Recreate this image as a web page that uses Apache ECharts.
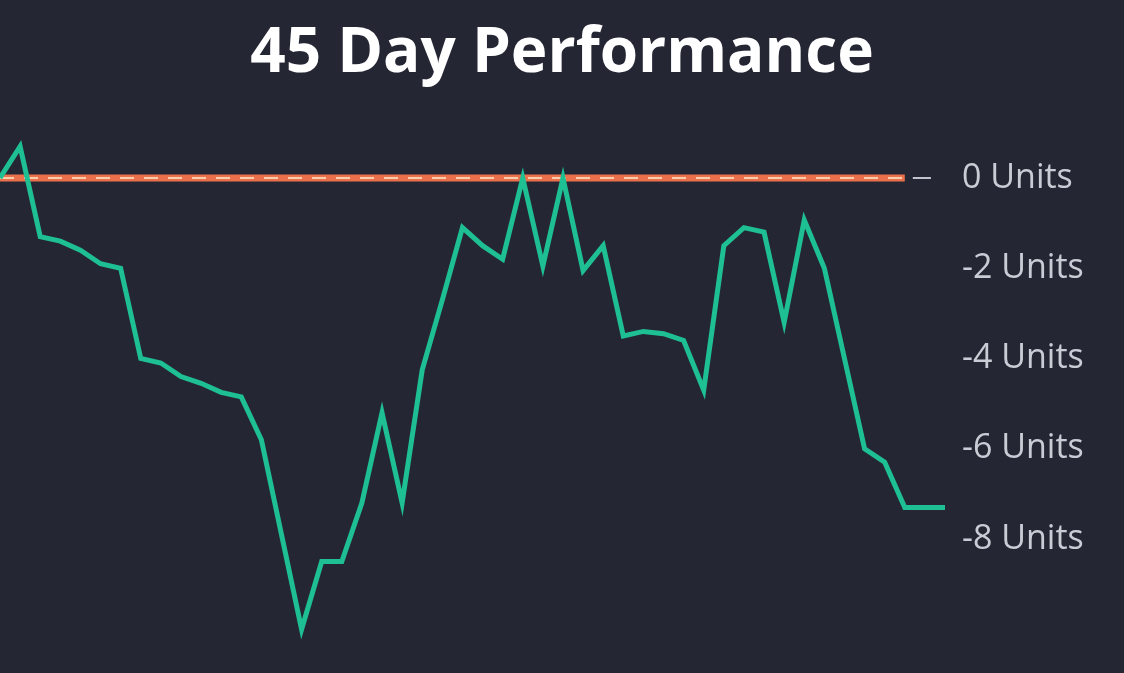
<!DOCTYPE html>
<html><head><meta charset="utf-8">
<script src="https://cdn.jsdelivr.net/npm/echarts@6/dist/echarts.min.js"></script>
<style>html,body{margin:0;padding:0;background:#242634;}#c{width:1124px;height:673px;}</style>
</head><body><div id="c"></div>
<script>
const titleText = '45 Day Performance';
const days = Array.from({length: 48}, (_, i) => i);
const performance = [0, 0.7, -1.3, -1.4, -1.6, -1.9, -2.0, -4.0, -4.1, -4.4, -4.55, -4.75, -4.85, -5.8, -7.9, -10.0,
  -8.5, -8.5, -7.2, -5.2, -7.2, -4.25, -2.7, -1.1, -1.5, -1.8, 0, -1.95, 0, -2.05, -1.5, -3.5, -3.4, -3.45, -3.6,
  -4.7, -1.5, -1.1, -1.2, -3.2, -0.93, -2.0, -4.0, -6.0, -6.3, -7.3, -7.3, -7.3];
const baselineValue = 0;
const baselineEndDay = 45;
const tickDash = [45.4, 46.3];
const yTicks = [0, -2, -4, -6, -8];

const chart = echarts.init(document.getElementById('c'));
chart.setOption({
  backgroundColor: '#242634',
  animation: false,
  title: {
    text: titleText, left: 'center', top: 18,
    textStyle: {color: '#ffffff', fontFamily: 'Open Sans', fontWeight: 'bold', fontSize: 62}
  },
  grid: {left: 0, right: 179, top: 87.75, bottom: 43.75},
  xAxis: {type: 'value', min: 0, max: days.length - 1, show: false},
  yAxis: {
    type: 'value', position: 'right', min: -10, max: 2, interval: 2,
    splitLine: {show: false}, axisLine: {show: false}, axisTick: {show: false},
    axisLabel: {
      margin: 17, color: '#c9ccd4', fontFamily: 'Open Sans', fontSize: 34,
      formatter: v => yTicks.includes(v) ? v + ' Units' : ''
    }
  },
  series: [
    {
      type: 'line', data: [[0, baselineValue], [baselineEndDay, baselineValue]],
      symbol: 'none', lineStyle: {color: '#ea714b', width: 7}, silent: true, z: 1
    },
    {
      type: 'line', data: [[0, baselineValue], [baselineEndDay, baselineValue]],
      symbol: 'none', lineStyle: {color: '#f8cfae', width: 2, type: [14, 10]}, silent: true, z: 2
    },
    {
      type: 'line', data: tickDash.map(d => [d, baselineValue]),
      symbol: 'none', lineStyle: {color: '#c0c4cc', width: 2}, silent: true, z: 2
    },
    {
      type: 'line', data: days.map((d, i) => [d, performance[i]]),
      symbol: 'none', clip: false,
      lineStyle: {color: '#1fbf94', width: 5, join: 'miter'}, z: 3
    }
  ]
});
</script></body></html>
